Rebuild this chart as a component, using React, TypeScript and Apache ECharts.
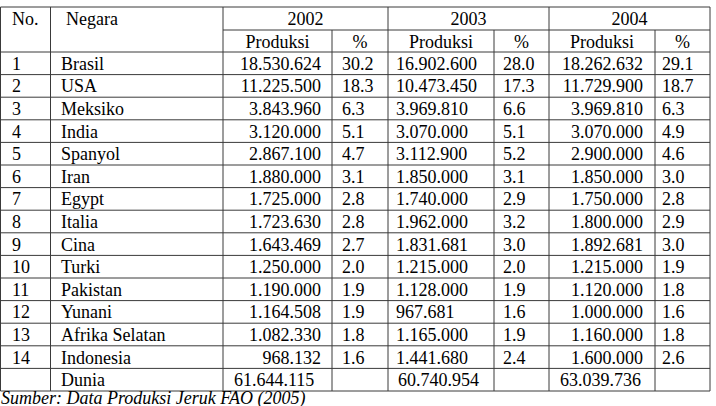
import React, { useEffect, useRef } from "react";
import * as echarts from "echarts";

const rowNumbers = ["1", "2", "3", "4", "5", "6", "7", "8", "9", "10", "11", "12", "13", "14", ""];
const countries = ["Brasil", "USA", "Meksiko", "India", "Spanyol", "Iran", "Egypt", "Italia", "Cina", "Turki", "Pakistan", "Yunani", "Afrika Selatan", "Indonesia", "Dunia"];
const prod2002 = [18530624, 11225500, 3843960, 3120000, 2867100, 1880000, 1725000, 1723630, 1643469, 1250000, 1190000, 1164508, 1082330, 968132];
const pct2002 = [30.2, 18.3, 6.3, 5.1, 4.7, 3.1, 2.8, 2.8, 2.7, 2.0, 1.9, 1.9, 1.8, 1.6];
const prod2003 = [16902600, 10473450, 3969810, 3070000, 3112900, 1850000, 1740000, 1962000, 1831681, 1215000, 1128000, 967681, 1165000, 1441680];
const pct2003 = [28.0, 17.3, 6.6, 5.1, 5.2, 3.1, 2.9, 3.2, 3.0, 2.0, 1.9, 1.6, 1.9, 2.4];
const prod2004 = [18262632, 11729900, 3969810, 3070000, 2900000, 1850000, 1750000, 1800000, 1892681, 1215000, 1120000, 1000000, 1160000, 1600000];
const pct2004 = [29.1, 18.7, 6.3, 4.9, 4.6, 3.0, 2.8, 2.9, 3.0, 1.9, 1.8, 1.6, 1.8, 2.6];
const totals = [61644115, 60740954, 63039736];
const years = ["2002", "2003", "2004"];
const headerNo = "No.";
const headerCountry = "Negara";
const headerProd = "Produksi";
const headerPct = "%";
const source = "Sumber: Data Produksi Jeruk FAO (2005)";

const fmt = (n: number) => String(n).replace(/\B(?=(\d{3})+(?!\d))/g, ".");

export default function App() {
  const ref = useRef<HTMLDivElement>(null);
  useEffect(() => {
    document.body.style.margin = "0";
    const chart = echarts.init(ref.current!, null, { renderer: "svg" });
    const font = "Liberation Serif, Times New Roman, serif";
    const fs = 18;
    const lineColor = "#3a3a3a";
    const top = 7;
    const mid = 30;
    const headBottom = 52;
    const rowH = 22.6;
    const nRows = countries.length;
    const bottom = headBottom + rowH * nRows;
    // column boundaries
    const xs = [0.5, 50.5, 223, 332, 388, 494, 549, 655, 710];
    const els: any[] = [];
    const line = (x1: number, y1: number, x2: number, y2: number) =>
      els.push({ type: "line", shape: { x1, y1, x2, y2 }, style: { stroke: lineColor, lineWidth: 1 }, silent: true });
    const text = (t: string, x: number, y: number, align: string, italic = false) =>
      els.push({
        type: "text",
        x,
        y,
        style: {
          text: t,
          fill: "#000",
          font: `${italic ? "italic " : ""}${fs}px ${font}`,
          lineHeight: 16,
          textAlign: align,
          textVerticalAlign: "middle",
        },
        silent: true,
      });

    // horizontal lines
    line(xs[0], top, xs[8], top);
    line(xs[2], mid, xs[8], mid);
    line(xs[0], headBottom, xs[8], headBottom);
    for (let i = 1; i <= nRows; i++) {
      const y = headBottom + rowH * i;
      line(xs[0], y, xs[8], y);
    }
    // vertical lines
    [0, 1, 2, 4, 6, 8].forEach((k) => line(xs[k], top, xs[k], bottom));
    [3, 5, 7].forEach((k) => line(xs[k], mid, xs[k], bottom));

    // header
    const hy1 = (top + mid) / 2 + 0.5;
    const hy2 = (mid + headBottom) / 2 + 0.5;
    text(headerNo, 12, hy1, "left");
    text(headerCountry, 66, hy1, "left");
    years.forEach((yr, i) => {
      const a = xs[2 + i * 2];
      const b = xs[4 + i * 2];
      const m = xs[3 + i * 2];
      text(yr, (a + b) / 2, hy1, "center");
      text(headerProd, (a + m) / 2, hy2, "center");
      text(headerPct, (m + b) / 2, hy2, "center");
    });

    // body
    for (let i = 0; i < nRows; i++) {
      const y = headBottom + rowH * (i + 0.5) + 0.5;
      text(rowNumbers[i], 12, y, "left");
      text(countries[i], 61, y, "left");
      if (i < prod2002.length) {
        text(fmt(prod2002[i]), 321, y, "right");
        text(pct2002[i].toFixed(1), 342, y, "left");
        text(fmt(prod2003[i]), 396, y, "left");
        text(pct2003[i].toFixed(1), 503, y, "left");
        text(fmt(prod2004[i]), 643, y, "right");
        text(pct2004[i].toFixed(1), 662, y, "left");
      } else {
        text(fmt(totals[0]), 234, y, "left");
        text(fmt(totals[1]), 398, y, "left");
        text(fmt(totals[2]), 560, y, "left");
      }
    }
    text(source, 1, 397.8, "left", true);

    chart.setOption({
      animation: false,
      backgroundColor: "#ffffff",
      graphic: { elements: els },
    });
    return () => chart.dispose();
  }, []);
  return <div ref={ref} style={{ position: "absolute", left: 0, top: 0, width: 716, height: 406 }} />;
}
